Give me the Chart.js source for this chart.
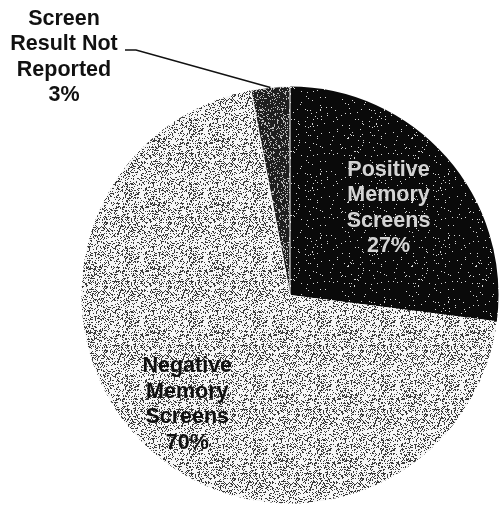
<!DOCTYPE html>
<html>
<head>
<meta charset="utf-8">
<script src="https://cdn.jsdelivr.net/npm/chart.js@4"></script>
<style>
    html, body { margin: 0; padding: 0; background: #fff; }
    .wrap { position: relative; width: 499px; height: 507px; }
</style>
</head>
<body>
<div class="wrap"><canvas id="memory-chart" width="499" height="507"></canvas></div>
<script>
const categories = ['Positive Memory Screens', 'Negative Memory Screens', 'Screen Result Not Reported'];
const labelLines = [
    ['Positive', 'Memory', 'Screens'],
    ['Negative', 'Memory', 'Screens'],
    ['Screen', 'Result Not', 'Reported']
];
const percents = [27, 70, 3];

// scanned-looking speckle fill (fixed seed, only texture)
function speckle(base, dot, amount, seed) {
    const c = document.createElement('canvas');
    c.width = 64; c.height = 64;
    const ctx = c.getContext('2d');
    ctx.fillStyle = base;
    ctx.fillRect(0, 0, 64, 64);
    ctx.fillStyle = dot;
    let s = seed;
    for(let i = 0; i < 64 * 64; i++) {
        s = (s * 1103515245 + 12345) % 2147483648;
        if((s / 2147483648) < amount) {
            ctx.fillRect(i % 64, Math.floor(i / 64), 1, 1);
        }
    }
    return ctx.createPattern(c, 'repeat');
}

const sliceFill = [
    speckle('#0a0a0a', '#d8d8d8', 0.03, 7),
    speckle('#f6f6f6', '#3a3a3a', 0.27, 19),
    speckle('#1e1e1e', '#bbbbbb', 0.2, 31)
];

const pieText = {
    id: 'pieText',
    afterDatasetsDraw(chart) {
        const ctx = chart.ctx;
        const arcs = chart.getDatasetMeta(0).data;
        ctx.save();
        ctx.font = 'bold 21.5px "Liberation Sans", Arial, sans-serif';
        ctx.textAlign = 'center';
        ctx.textBaseline = 'middle';

        // labels inside the two big slices
        const factor = [0.63, 0.72];
        const colors = ['#d4d4d4', '#111111'];
        [0, 1].forEach(i => {
            const a = arcs[i];
            const mid = (a.startAngle + a.endAngle) / 2;
            const r = a.outerRadius * factor[i];
            const cx = a.x + Math.cos(mid) * r;
            const cy = a.y + Math.sin(mid) * r;
            const lines = labelLines[i].concat([percents[i] + '%']);
            ctx.fillStyle = colors[i];
            lines.forEach((t, k) => {
                ctx.fillText(t, cx, cy + (k - 1.5) * 25.5);
            });
        });

        // small slice: label outside with leader line
        const s = arcs[2];
        const smid = (s.startAngle + s.endAngle) / 2;
        const ax = s.x + Math.cos(smid) * s.outerRadius;
        const ay = s.y + Math.sin(smid) * s.outerRadius;
        ctx.strokeStyle = '#111';
        ctx.lineWidth = 1.5;
        ctx.beginPath();
        ctx.moveTo(ax, ay);
        ctx.lineTo(136, 50);
        ctx.lineTo(125, 50);
        ctx.stroke();

        ctx.fillStyle = '#111';
        const small = labelLines[2].concat([percents[2] + '%']);
        small.forEach((t, k) => {
            ctx.fillText(t, 64, 19 + k * 25.5);
        });
        ctx.restore();
    }
};

const chartCanvas = document.getElementById('memory-chart');
const memoryChart = new Chart(chartCanvas, {
    type: 'pie',
    data: {
        labels: categories,
        datasets: [{
            data: percents,
            backgroundColor: sliceFill,
            borderWidth: [0, 0, 1],
            borderColor: '#ffffff'
        }]
    },
    options: {
        responsive: false,
        animation: false,
        devicePixelRatio: 1,
        layout: {
            padding: { left: 81, right: 0, top: 86, bottom: 3 }
        },
        plugins: {
            legend: { display: false },
            tooltip: { enabled: false }
        }
    },
    plugins: [pieText]
});
</script>
</body>
</html>
